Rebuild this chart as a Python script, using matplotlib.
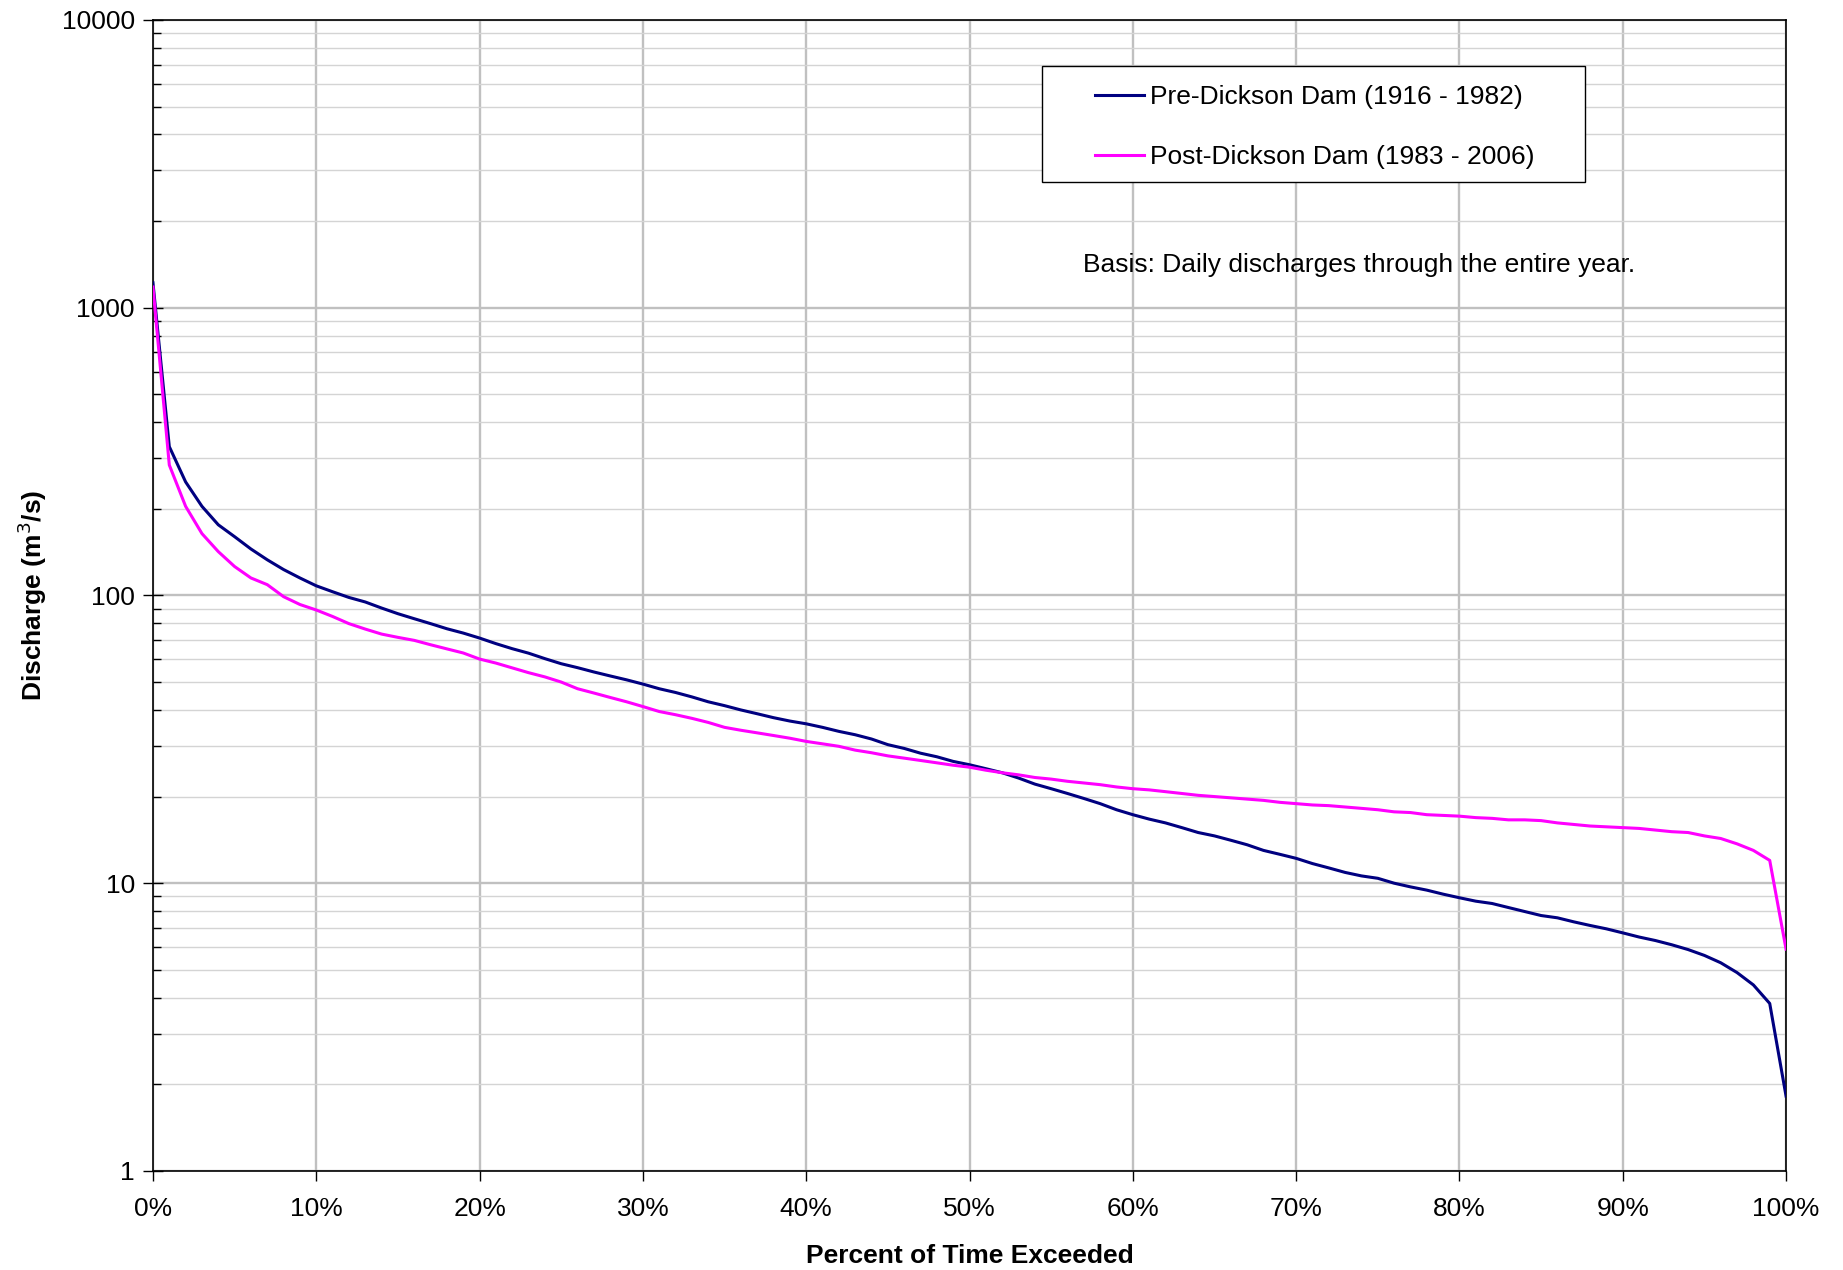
import matplotlib.pyplot as plt
import numpy as np
from matplotlib.patches import Rectangle
from matplotlib.ticker import FixedLocator, FuncFormatter, LogLocator, NullFormatter

plt.rcParams["font.family"] = ["Liberation Sans", "DejaVu Sans"]

# percent of time exceeded, 0..100 in 1% steps
percent = np.arange(0, 101)

pre_dam = [
    1220, 329, 248, 204, 176, 160, 145, 133, 123, 115,
    108, 103, 98.4, 94.9, 90.4, 86.4, 83.0, 79.8, 76.6, 74.0,
    71.1, 68.0, 65.3, 63.0, 60.3, 57.9, 56.1, 54.2, 52.5, 50.9,
    49.2, 47.4, 46.0, 44.4, 42.7, 41.4, 40.0, 38.8, 37.6, 36.6,
    35.8, 34.8, 33.7, 32.8, 31.7, 30.3, 29.4, 28.3, 27.5, 26.5,
    25.8, 25.0, 24.2, 23.2, 22.1, 21.3, 20.5, 19.7, 18.9, 18.0,
    17.3, 16.7, 16.2, 15.6, 15.0, 14.6, 14.1, 13.6, 13.0, 12.6,
    12.2, 11.7, 11.3, 10.9, 10.6, 10.4, 10.0, 9.71, 9.46, 9.16,
    8.90, 8.66, 8.50, 8.23, 7.97, 7.72, 7.58, 7.34, 7.13, 6.94,
    6.72, 6.50, 6.32, 6.11, 5.88, 5.61, 5.29, 4.89, 4.43, 3.82,
    1.82,
]

post_dam = [
    1180, 284, 204, 164, 142, 126, 115, 109, 99, 93,
    89, 84.5, 79.8, 76.4, 73.4, 71.5, 69.8, 67.4, 65.2, 63.1,
    60.1, 58.2, 56.0, 53.9, 52.1, 50.0, 47.4, 45.8, 44.2, 42.7,
    41.1, 39.5, 38.5, 37.4, 36.2, 34.8, 34.0, 33.3, 32.6, 31.9,
    31.1, 30.5, 29.9, 29.0, 28.4, 27.7, 27.2, 26.7, 26.2, 25.7,
    25.3, 24.7, 24.2, 23.8, 23.3, 23.0, 22.6, 22.3, 22.0, 21.6,
    21.3, 21.1, 20.8, 20.5, 20.2, 20.0, 19.8, 19.6, 19.4, 19.1,
    18.9, 18.7, 18.6, 18.4, 18.2, 18.0, 17.7, 17.6, 17.3, 17.2,
    17.1, 16.9, 16.8, 16.6, 16.6, 16.5, 16.2, 16.0, 15.8, 15.7,
    15.6, 15.5, 15.3, 15.1, 15.0, 14.6, 14.3, 13.7, 13.0, 12.0,
    5.9,
]

labels = ["Pre-Dickson Dam (1916 - 1982)", "Post-Dickson Dam (1983 - 2006)"]
note = "Basis: Daily discharges through the entire year."

fig = plt.figure(figsize=(18.43, 12.70), dpi=100)
ax = fig.add_axes([0.0830, 0.0780, 0.8861, 0.9063])

ax.plot(percent, pre_dam, color="#000080", lw=2.2, label=labels[0], zorder=3)
ax.plot(percent, post_dam, color="#FF00FF", lw=2.2, label=labels[1], zorder=3)

ax.set_yscale("log")
ax.set_ylim(1, 10000)
ax.set_xlim(0, 100)

ax.xaxis.set_major_locator(FixedLocator(np.arange(0, 101, 10)))
ax.xaxis.set_major_formatter(FuncFormatter(lambda v, _: f"{v:.0f}%"))
ax.yaxis.set_major_locator(LogLocator(base=10, numticks=10))
ax.yaxis.set_major_formatter(FuncFormatter(lambda v, _: f"{v:.0f}"))
ax.yaxis.set_minor_locator(LogLocator(base=10, subs=np.arange(2, 10), numticks=20))
ax.yaxis.set_minor_formatter(NullFormatter())

ax.grid(True, which="major", color="#c0c0c0", lw=1.7)
ax.grid(True, which="minor", axis="y", color="#d4d4d4", lw=1.0)
ax.set_axisbelow(True)

ax.tick_params(axis="x", which="major", direction="out", length=7, width=1,
               labelsize=19, pad=12)
ax.tick_params(axis="y", which="major", direction="inout", length=14, width=1,
               labelsize=19, pad=6)
ax.tick_params(axis="y", which="minor", direction="in", length=6, width=1)
for side in ["top", "right", "left", "bottom"]:
    ax.spines[side].set_linewidth(1.2)

ax.set_xlabel("Percent of Time Exceeded", fontsize=19, fontweight="bold", labelpad=16)
ax.set_ylabel("Discharge (m$^3$/s)", fontsize=19, fontweight="bold", labelpad=9)

# legend box drawn separately so its padding matches the original
ax.add_patch(Rectangle((0.5444, 0.8593), 0.3325, 0.1007, transform=ax.transAxes,
                       facecolor="white", edgecolor="black", lw=1.0, zorder=4))
leg = ax.legend(
    loc="center left", bbox_to_anchor=(0.577, 0.9070),
    fontsize=19, frameon=False, handlelength=1.86,
    handletextpad=0.22, labelspacing=1.35, borderpad=0, borderaxespad=0,
)
leg.set_zorder(5)

ax.text(0.5694, 0.7875, note, transform=ax.transAxes, fontsize=19,
        ha="left", va="center")

fig.savefig("out.png", dpi=100)
